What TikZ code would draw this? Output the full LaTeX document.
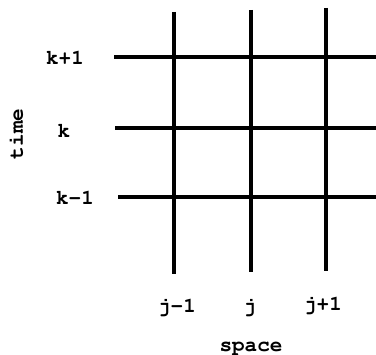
\documentclass[tikz,border=0pt]{standalone}
\begin{document}
\begin{tikzpicture}[x=1pt, y=-1pt,
      every node/.style={font=\fontencoding{T1}\fontfamily{pcr}\fontseries{b}\fontsize{21}{21}\selectfont, inner sep=0pt, anchor=base},
      gridline/.style={line width=4pt}]
    \useasboundingbox (0,0) rectangle (376,355);
    % space index lines
    \coordinate (V1top) at (174,12);
    \coordinate (V1bot) at (174,274);
    \coordinate (V2top) at (251,10);
    \coordinate (V2bot) at (251,272);
    \coordinate (V3top) at (326,8);
    \coordinate (V3bot) at (326,271);
    % time level lines
    \coordinate (H1lft) at (114,57);
    \coordinate (H1rgt) at (376,57);
    \coordinate (H2lft) at (115,128);
    \coordinate (H2rgt) at (376,128);
    \coordinate (H3lft) at (118,197);
    \coordinate (H3rgt) at (376,197);
    \foreach \n in {1,2,3} {
      \draw[gridline] (V\n top) -- (V\n bot);
      \draw[gridline] (H\n lft) -- (H\n rgt);
    }
    % labels
    \node (kp1) at (65,65) {k+1};
    \node (k) at (64,138) {k};
    \node (km1) at (75,205) {k-1};
    \node (jm1) at (177,313) {j-1};
    \node (j) at (250,313) {j};
    \node (jp1) at (323,311) {j+1};
    \node (space) at (251,352) {space};
    \node[rotate=90] (time) at (23,134) {time};
\end{tikzpicture}
\end{document}
